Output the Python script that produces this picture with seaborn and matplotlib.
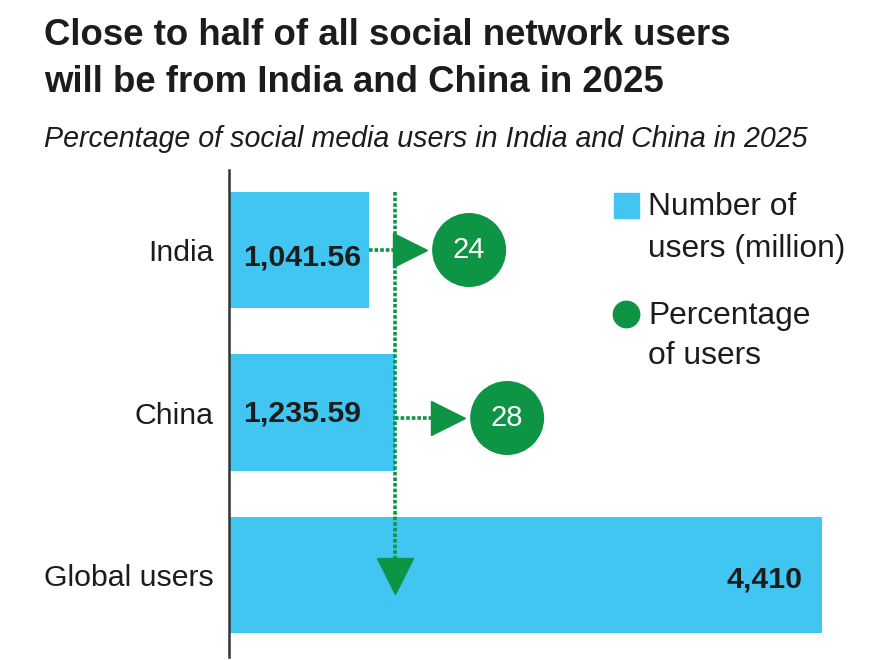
import numpy as np
import pandas as pd
import seaborn as sns
import matplotlib.pyplot as plt
from matplotlib import font_manager
from matplotlib.lines import Line2D

# ---------------- data ----------------
categories = ["India", "China", "Global users"]
users_million = [1041.56, 1235.59, 4410]
user_labels = ["1,041.56", "1,235.59", "4,410"]
pct_categories = ["India", "China"]
pct_users = [24, 28]

title_lines = ["Close to half of all social network users",
               "will be from India and China in 2025"]
subtitle = "Percentage of social media users in India and China in 2025"
legend_labels = ["Number of\nusers (million)", "Percentage\nof users"]

# ---------------- style ----------------
BLUE = "#41C6F2"
GREEN = "#0D9444"
DARK = "#1C1C1C"
AXIS = "#333333"

sns.set_theme(style="white")
names = {f.name for f in font_manager.fontManager.ttflist}
if "Liberation Sans Narrow" in names:
    FONT, SC = "Liberation Sans Narrow", 1.19
else:
    FONT, SC = "Liberation Sans", 1.0
plt.rcParams["font.family"] = [FONT, "DejaVu Sans"]

W, H = 872, 660
fig = plt.figure(figsize=(W / 100, H / 100), dpi=100)
fig.patch.set_facecolor("white")

ax_left, ax_top, ax_bottom = 229, 170, 657
ax = fig.add_axes([ax_left / W, 1 - ax_bottom / H, (W - ax_left) / W, (ax_bottom - ax_top) / H])

df = pd.DataFrame({"category": categories, "users": users_million})
sns.barplot(data=df, y="category", x="users", order=categories, color=BLUE,
            saturation=1, width=0.714, linewidth=0, ax=ax)

# scale: the largest bar ends at pixel 822
xmax = users_million[2] * (W - ax_left) / (822 - ax_left)
ax.set_xlim(0, xmax)
row_px = 162.5
def ydat(py):
    return (py - 250) / row_px
ax.set_ylim(ydat(ax_bottom), ydat(ax_top))
px = xmax / (W - ax_left)  # data units per pixel

for s in ["top", "right", "bottom"]:
    ax.spines[s].set_visible(False)
ax.spines["left"].set_color(AXIS)
ax.spines["left"].set_linewidth(1.8)
ax.set_xticks([])
ax.set_xlabel("")
ax.set_ylabel("")
ax.tick_params(axis="y", length=0, pad=11, labelsize=21.8 * SC, labelcolor=DARK)

# bar value labels
label_y = [ydat(257), ydat(414), ydat(580)]
for i, (v, lab) in enumerate(zip(users_million, user_labels)):
    if i < 2:
        ax.text(14 * px, label_y[i], lab, ha="left", va="center",
                fontsize=21.8 * SC, fontweight="bold", color=DARK)
    else:
        ax.text(v - 20 * px, label_y[i], lab, ha="right", va="center",
                fontsize=21.8 * SC, fontweight="bold", color=DARK)

# connector lines / arrows / percentage circles
xv = users_million[1]
dotted = dict(color=GREEN, lw=2.6, ls=(0, (1, 0.55)), zorder=3, solid_capstyle="butt")
# vertical connector
ax.plot([xv, xv], [ydat(192), ydat(562)], **dotted)
ax.plot([xv], [ydat(576)], marker="v", ms=26, color=GREEN, mec=GREEN, zorder=4)

row_y = [ydat(250), ydat(418)]
line_start = [users_million[0], xv]
line_end = [xv, xv + 37 * px]
tri_x = [xv + 15 * px, xv + 53 * px]
circ_x = [xv + 74 * px, xv + 112 * px]
for i, p in enumerate(pct_users):
    ax.plot([line_start[i], line_end[i]], [row_y[i], row_y[i]], **dotted)
    ax.plot([tri_x[i]], [row_y[i]], marker=">", ms=24, color=GREEN, mec=GREEN, zorder=4)
    ax.scatter([circ_x[i]], [row_y[i]], s=(74 * 0.72) ** 2, color=GREEN,
               edgecolor="none", zorder=4, clip_on=False)
    ax.text(circ_x[i], row_y[i], str(p), ha="center", va="center",
            fontsize=21 * SC, color="white", zorder=5)

# ---------------- titles ----------------
fig.text(44 / W, 1 - 45 / H, title_lines[0], fontsize=26.4 * SC, fontweight="bold",
         color=DARK, ha="left", va="baseline")
fig.text(44 / W, 1 - 92 / H, title_lines[1], fontsize=26.4 * SC, fontweight="bold",
         color=DARK, ha="left", va="baseline")
fig.text(44 / W, 1 - 147 / H, subtitle, fontsize=20.6 * SC, fontstyle="italic",
         color=DARK, ha="left", va="baseline")

# ---------------- legend ----------------
fig.add_artist(Line2D([626 / W], [1 - 205 / H], marker="s", ms=18, color=BLUE,
                      mec=BLUE, ls="none", transform=fig.transFigure))
fig.add_artist(Line2D([626 / W], [1 - 314 / H], marker="o", ms=19, color=GREEN,
                      mec=GREEN, ls="none", transform=fig.transFigure))
fig.text(648 / W, 1 - 192 / H, legend_labels[0], fontsize=22.9 * SC, color=DARK,
         ha="left", va="top", linespacing=1.5)
fig.text(648 / W, 1 - 301 / H, legend_labels[1], fontsize=22.9 * SC, color=DARK,
         ha="left", va="top", linespacing=1.45)

fig.savefig("out.png", dpi=100, facecolor="white")
